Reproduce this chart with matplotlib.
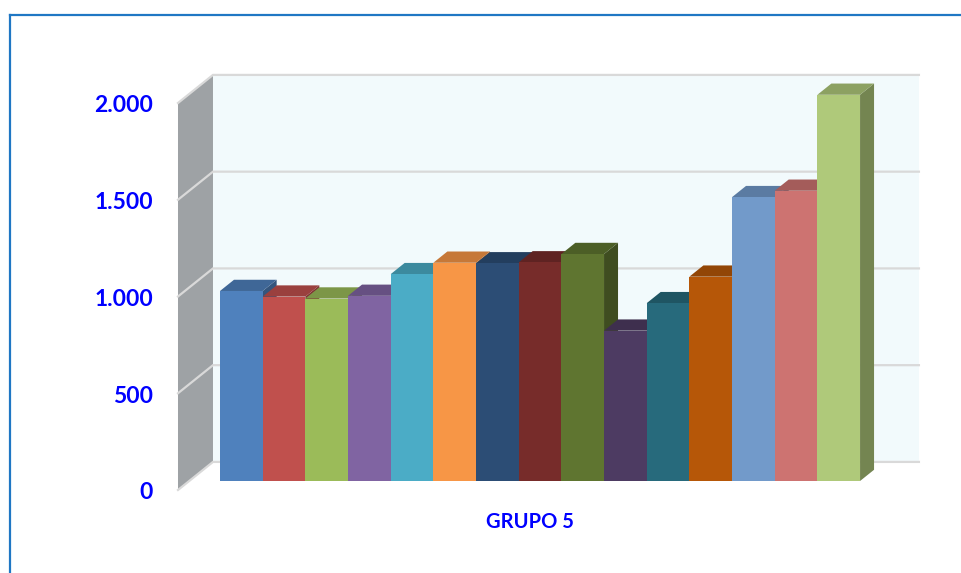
import matplotlib
matplotlib.use('Agg')
from matplotlib import pyplot as plt
from matplotlib.patches import Polygon
from matplotlib.lines import Line2D
import numpy as np

plt.rcParams['font.family'] = ['Lato', 'DejaVu Sans']

## 데이터
values = [982, 953, 943, 957, 1069, 1128, 1125, 1130, 1173, 777, 919, 1056, 1467, 1500, 1996]
colors = ['#4F81BD', '#C0504D', '#9BBB59', '#8064A2', '#4BACC6', '#F79646',
          '#2C4D75', '#772C2A', '#5F7530', '#4D3B62', '#276A7C', '#B65708',
          '#729ACA', '#CD7371', '#AFC97A']
ticks = [0, 500, 1000, 1500, 2000]
tick_labels = ['0', '500', '1.000', '1.500', '2.000']
category = 'GRUPO 5'

## 3D 느낌을 위한 경사 투영 (깊이 t 에 따라 오른쪽 위로 이동)
DX, DY = 0.82, 145.0
T_FRONT, T_BACK = -0.32, 0.68   # 바닥 앞/뒤
T_BAR = 0.4                      # 막대 깊이
X_LEFT = -0.722
X_RIGHT = 16.38 - T_BACK * DX


def proj(x, y, t):
    return (x + t * DX, y + t * DY)


def shade(c, f):
    r, g, b = matplotlib.colors.to_rgb(c)
    return (r * f, g * f, b * f)


fig = plt.figure(figsize=(9.62, 5.73), dpi=100)
ax = fig.add_axes([0, 0, 1, 1])
ax.set_xlim(-220 / 42.67, (962 - 220) / 42.67)
ax.set_ylim((481 - 573) / 0.1935, 481 / 0.1935)
ax.axis('off')

ymax = 2000
## 뒷벽
back = [proj(X_LEFT, 0, T_BACK), proj(X_RIGHT, 0, T_BACK),
        proj(X_RIGHT, ymax, T_BACK), proj(X_LEFT, ymax, T_BACK)]
ax.add_patch(Polygon(back, closed=True, fc='#f2fafc', ec='none', zorder=1))
## 왼쪽 벽
side = [proj(X_LEFT, 0, T_FRONT), proj(X_LEFT, 0, T_BACK),
        proj(X_LEFT, ymax, T_BACK), proj(X_LEFT, ymax, T_FRONT)]
ax.add_patch(Polygon(side, closed=True, fc='#9ea2a5', ec='none', zorder=1))

## 격자선
for v in ticks:
    p1 = proj(X_LEFT, v, T_FRONT)
    p2 = proj(X_LEFT, v, T_BACK)
    p3 = proj(X_RIGHT, v, T_BACK)
    ax.plot([p1[0], p2[0], p3[0]], [p1[1], p2[1], p3[1]], color='#d9d9d9', lw=1.6,
            solid_joinstyle='miter', zorder=2)

## 막대
for i, (v, c) in enumerate(zip(values, colors)):
    x0, x1 = i, i + 1
    front = [proj(x0, 0, 0), proj(x1, 0, 0), proj(x1, v, 0), proj(x0, v, 0)]
    top = [proj(x0, v, 0), proj(x1, v, 0), proj(x1, v, T_BAR), proj(x0, v, T_BAR)]
    rside = [proj(x1, 0, 0), proj(x1, 0, T_BAR), proj(x1, v, T_BAR), proj(x1, v, 0)]
    z = 3 + i
    ax.add_patch(Polygon(rside, closed=True, fc=shade(c, 0.66), ec='none', zorder=z))
    ax.add_patch(Polygon(top, closed=True, fc=shade(c, 0.8), ec='none', zorder=z))
    ax.add_patch(Polygon(front, closed=True, fc=c, ec='none', zorder=z))

## 축 레이블
for v, lab in zip(ticks, tick_labels):
    x, y = proj(X_LEFT, v, T_FRONT)
    ax.text((153 - 220) / 42.67, y - 15, lab, ha='right', va='center', color='#0000FF',
            fontsize=16.5, fontweight='bold')

ax.text((530 - 220) / 42.67, (481 - 522) / 0.1935, category, ha='center', va='center',
        color='#0000FF', fontsize=14.5, fontweight='bold')

## 바깥 테두리 (왼쪽, 위쪽)
fig.add_artist(Line2D([9.5 / 962, 9.5 / 962], [0, 1 - 14.5 / 573], color='#1f77c4', lw=1.6))
fig.add_artist(Line2D([9.5 / 962, 1], [1 - 14.5 / 573, 1 - 14.5 / 573], color='#1f77c4', lw=1.6))

plt.savefig('out.png', dpi=100)
